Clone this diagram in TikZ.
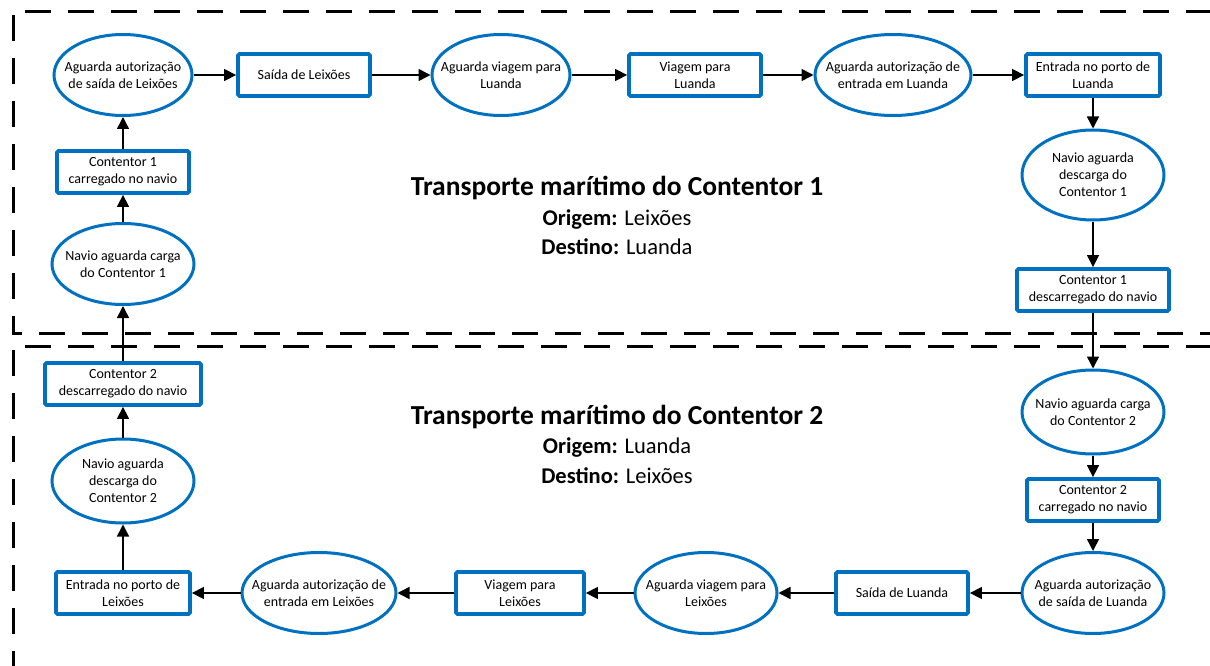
\documentclass[tikz,border=0pt]{standalone}
\usepackage{fontspec}
\setmainfont{Carlito}
\usetikzlibrary{shapes.geometric,arrows.meta}
\definecolor{nodeblue}{HTML}{0070C0}
\begin{document}
\begin{tikzpicture}[x=1pt,y=-1pt,
  state/.style={ellipse,draw=nodeblue,line width=3pt,fill=white,
    minimum width=#1,minimum height=81pt,inner xsep=-30pt,inner ysep=-12pt,
    align=center,font=\fontsize{14}{17}\selectfont},
  state/.default=138pt,
  activity/.style={rectangle,draw=nodeblue,line width=3.8pt,rounded corners=1.5pt,
    fill=white,minimum width=#1,minimum height=42pt,inner sep=0pt,align=center,
    font=\fontsize{14}{17}\selectfont},
  activity/.default=132pt,
  flow/.style={-{Triangle[length=12pt,width=12pt]},line width=1.5pt},
  region/.style={line width=3pt,dash pattern=on 26pt off 17pt},
  heading/.style={font=\fontsize{27.5}{32}\selectfont\bfseries},
  subheading/.style={font=\fontsize{22.5}{26}\selectfont}]
\useasboundingbox (0,0) rectangle (1210,666);
\clip (0,0) rectangle (1210,666);

% dashed frames of the two voyages
\draw[region] (25,12) -- (1230,12);
\draw[region] (13,15) -- (13,333) -- (1230,333);
\draw[region] (25,346) -- (1230,346);
\draw[region] (13,350) -- (13,680);

% voyage of container 1 (Leixoes -> Luanda)
\node[state] (e1) at (123,75) {Aguarda autorização\\de saída de Leixões};
\node[activity] (r1) at (304,75) {Saída de Leixões};
\node[state] (e2) at (501,75) {Aguarda viagem para\\Luanda};
\node[activity] (r2) at (695,75) {Viagem para\\Luanda};
\node[state=156pt] (e3) at (893,75) {Aguarda autorização de\\entrada em Luanda};
\node[activity=134pt] (r3) at (1093,75) {Entrada no porto de\\Luanda};
\node[state=142pt,minimum height=90pt] (e4) at (1093,175) {Navio aguarda\\descarga do\\Contentor 1};
\node[activity=152pt] (r4) at (1093,290) {Contentor 1\\descarregado do navio};

% voyage of container 2 (Luanda -> Leixoes)
\node[state=142pt,minimum height=84pt] (e5) at (1093,412) {Navio aguarda carga\\do Contentor 2};
\node[activity] (r5) at (1093,500) {Contentor 2\\carregado no navio};
\node[state=142pt] (e6) at (1093,593) {Aguarda autorização\\de saída de Luanda};
\node[activity] (r6) at (902,593) {Saída de Luanda};
\node[state=142pt] (e7) at (706,593) {Aguarda viagem para\\Leixões};
\node[activity=128pt] (r7) at (520,593) {Viagem para\\Leixões};
\node[state=154pt] (e8) at (319,593) {Aguarda autorização de\\entrada em Leixões};
\node[activity=134pt] (r8) at (123,593) {Entrada no porto de\\Leixões};
\node[state=142pt,minimum height=84pt] (e9) at (123,481) {Navio aguarda\\descarga do\\Contentor 2};
\node[activity=156pt] (r9) at (123,384) {Contentor 2\\descarregado do navio};
\node[state=142pt] (e10) at (123,264) {Navio aguarda carga\\do Contentor 1};
\node[activity] (r10) at (123,172) {Contentor 1\\carregado no navio};

% captions
\node[heading] (t1) at (617,188) {Transporte marítimo do Contentor 1};
\node[subheading] (o1) at (617,220) {\textbf{Origem:} Leixões};
\node[subheading] (d1) at (617,247) {\textbf{Destino:} Luanda};
\node[heading] (t2) at (617,417) {Transporte marítimo do Contentor 2};
\node[subheading] (o2) at (617,448) {\textbf{Origem:} Luanda};
\node[subheading] (d2) at (617,476) {\textbf{Destino:} Leixões};

% sequence of events
\draw[flow] (e1) -- (r1);
\draw[flow] (r1) -- (e2);
\draw[flow] (e2) -- (r2);
\draw[flow] (r2) -- (e3);
\draw[flow] (e3) -- (r3);
\draw[flow] (r3) -- (e4);
\draw[flow] (e4) -- (r4);
\draw[flow] (r4) -- (e5);
\draw[flow] (e5) -- (r5);
\draw[flow] (r5) -- (e6);
\draw[flow] (e6) -- (r6);
\draw[flow] (r6) -- (e7);
\draw[flow] (e7) -- (r7);
\draw[flow] (r7) -- (e8);
\draw[flow] (e8) -- (r8);
\draw[flow] (r8) -- (e9);
\draw[flow] (e9) -- (r9);
\draw[flow] (r9) -- (e10);
\draw[flow] (e10) -- (r10);
\draw[flow] (r10) -- (e1);
\end{tikzpicture}
\end{document}
